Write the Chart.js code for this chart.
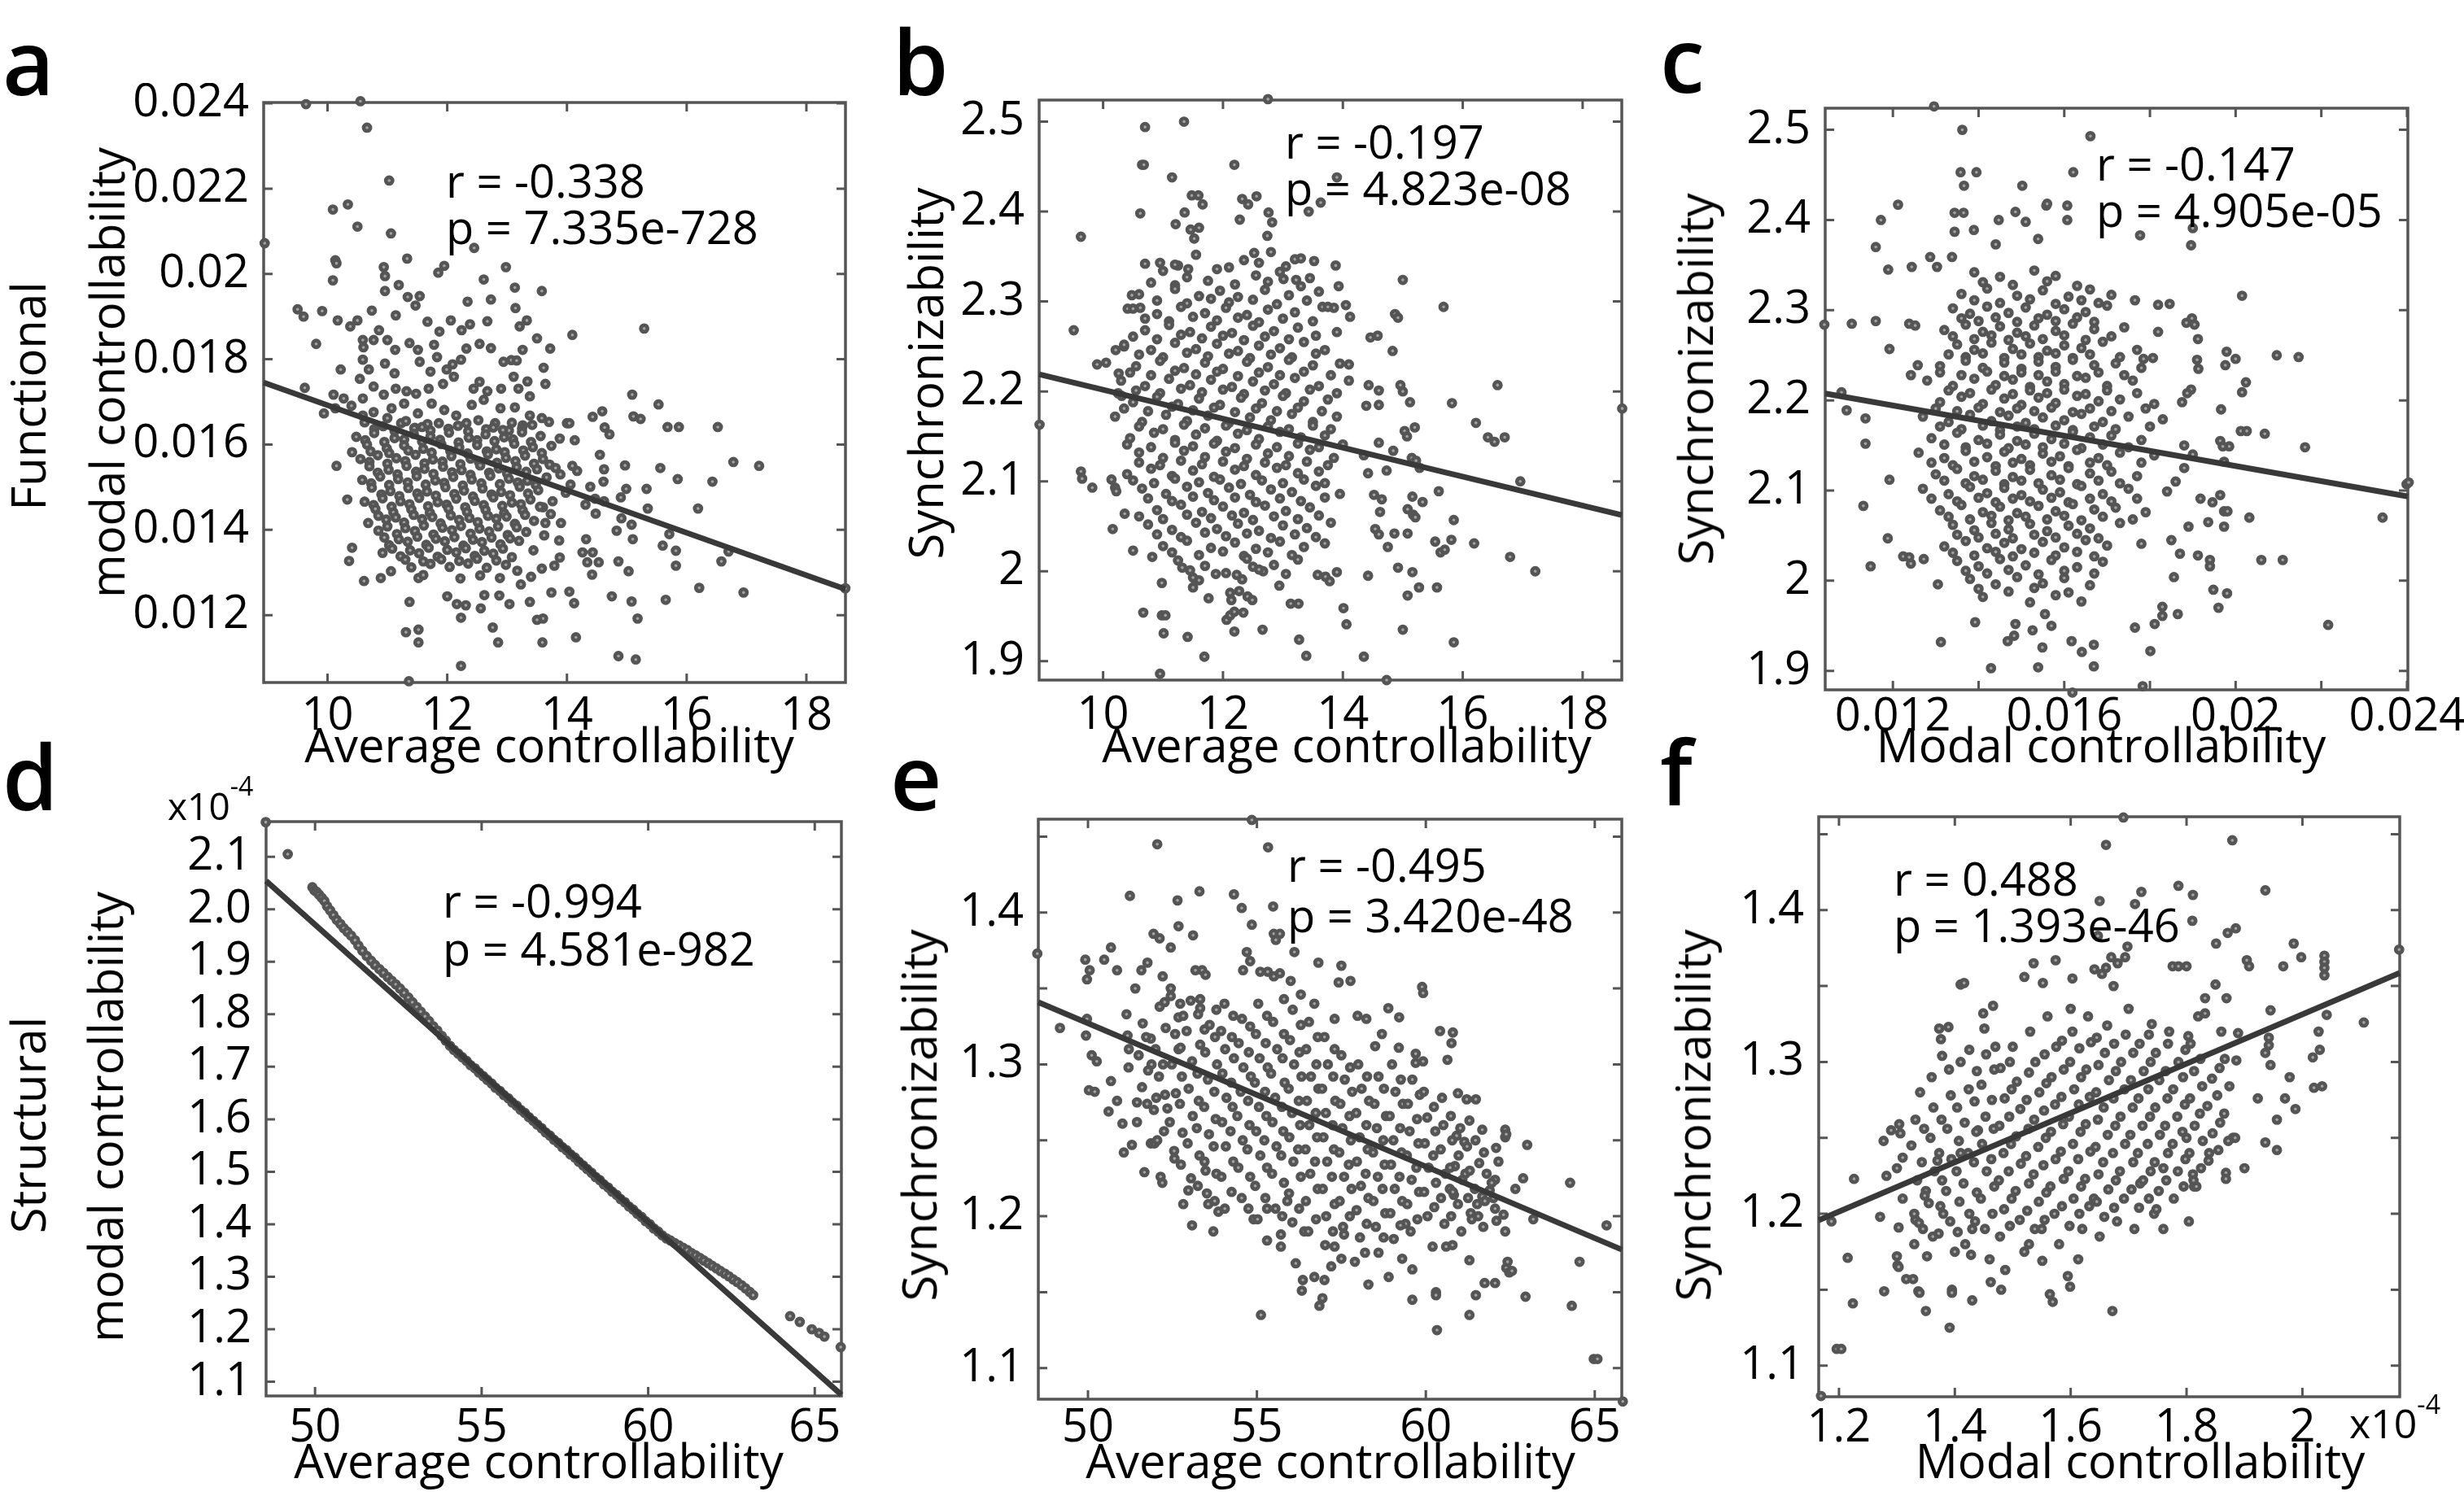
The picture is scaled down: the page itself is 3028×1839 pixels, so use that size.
<!DOCTYPE html>
<html>
<head>
<meta charset="utf-8">
<title>Controllability and synchronizability</title>
<script src="https://cdn.jsdelivr.net/npm/chart.js@4.4.1/dist/chart.umd.min.js"></script>
<style>
  body { margin: 0; background: #fff; }
  #fig { position: relative; width: 3028px; height: 1839px; overflow: hidden; font-family: 'Open Sans', sans-serif; color: #000; }
  #fig canvas { position: absolute; }
  .t { position: absolute; white-space: nowrap; line-height: 1; }
  .letter { font-weight: 600; }
  .ctr { transform: translateX(-50%); }
  .rot { transform: translate(-50%, -50%) rotate(-90deg); }
  .sup { font-size: 32px; position: relative; top: -30px; }
</style>
</head>
<body>
<div id="fig"></div>
<script>
// ---- panel a: average controllability vs functional modal controllability
var aXRange = [8.933, 18.653];
var aYRange = [0.01042, 0.02402];
var aXTicks = [10, 12, 14, 16, 18];
var aXLabels = ['10', '12', '14', '16', '18'];
var aYTicks = [0.012, 0.014, 0.016, 0.018, 0.020, 0.022, 0.024];
var aYLabels = ['0.012', '0.014', '0.016', '0.018', '0.02', '0.022', '0.024'];
var aFit = [[8.933, 0.017455], [18.653, 0.012608]];
var aPts = [
 [8.95,0.02072],[9.64,0.02398],[10.55,0.02405],[10.66,0.02343],[11.03,0.02219],[10.09,0.02151],[10.34,0.02163],[10.50,0.02111],[11.06,0.02095],[12.45,0.02061],[11.33,0.02036],[10.13,0.02032],[10.15,0.02025],[10.94,0.02016],[11.95,0.02019],[12.98,0.02016],[11.85,0.02003],[10.09,0.01985],[10.96,0.01995],[13.58,0.01960],[13.13,0.01968],[15.29,0.01872],[14.09,0.01857],[9.50,0.01917],[9.60,0.01900],[9.91,0.01913],[9.81,0.01836],[9.62,0.01733],[15.09,0.01717],[15.53,0.01694],[15.11,0.01666],[15.23,0.01660],[15.68,0.01641],[15.87,0.01641],[16.52,0.01641],[16.78,0.01559],[17.21,0.01550],[16.43,0.01513],[16.19,0.01450],[15.85,0.01519],[15.56,0.01545],[14.97,0.01551],[14.99,0.01496],[15.33,0.01496],[15.71,0.01390],[15.60,0.01363],[15.82,0.01351],[15.82,0.01316],[16.58,0.01326],[16.70,0.01349],[16.21,0.01264],[16.95,0.01253],[15.65,0.01236],[15.18,0.01192],[15.08,0.01232],[14.86,0.01104],[15.15,0.01096],[15.03,0.01303],[14.86,0.01326],[14.75,0.01244],[14.15,0.01148],[14.12,0.01228],[14.04,0.01255],[13.74,0.01253],[13.60,0.01192],[13.50,0.01189],[13.59,0.01136],[13.38,0.01231],[13.04,0.01226],[12.87,0.01246],[12.85,0.01136],[12.76,0.01171],[12.62,0.01247],[12.56,0.01216],[12.23,0.01081],[12.23,0.01194],[12.31,0.01223],[12.16,0.01226],[12.00,0.01244],[11.36,0.01045],[11.31,0.01160],[11.52,0.01166],[11.52,0.01136],[11.37,0.01231],[11.52,0.01287],[10.61,0.01280],[10.89,0.01287],[11.06,0.01303],[10.36,0.01327],[10.33,0.01471],[10.41,0.01358],[10.15,0.01550],[10.41,0.01582],[10.10,0.01717],[18.65,0.01263],
 [14.00,0.01650],[14.04,0.01650],[14.13,0.01610],[14.43,0.01665],[14.59,0.01678],[14.63,0.01640],[14.71,0.01624],[14.55,0.01576],[14.62,0.01542],[14.61,0.01513],[14.39,0.01501],[14.47,0.01473],[14.62,0.01467],[14.90,0.01476],[14.91,0.01427],[14.83,0.01398],[14.48,0.01438],[14.31,0.01459],[14.32,0.01378],[14.26,0.01347],[14.43,0.01347],[14.34,0.01324],[14.42,0.01295],[14.53,0.01324],[15.08,0.01412],[15.10,0.01378],[15.35,0.01450],
 [13.71,0.01553],[13.81,0.01545],[13.89,0.01530],[14.09,0.01550],[14.17,0.01538],[14.06,0.01506],[13.98,0.01487],[13.76,0.01467],[13.60,0.01453],[13.73,0.01437],[13.90,0.01416],[13.64,0.01416],[13.87,0.01375],[13.62,0.01387],[13.88,0.01335],[13.44,0.01352],[13.79,0.01316],[13.58,0.01309],[13.40,0.01290],[13.17,0.01304],[13.23,0.01272],
 [12.61,0.01987],[12.73,0.01940],[12.67,0.01889],[12.38,0.01882],[12.32,0.01825],[12.54,0.01836],[12.73,0.01826],[12.94,0.01794],[13.07,0.01798],[13.16,0.01797],[13.26,0.01822],[13.14,0.01920],[13.21,0.01877],[13.33,0.01891],[13.50,0.01849],[13.72,0.01825],[13.61,0.01780],[13.64,0.01742],[13.34,0.01748],[13.19,0.01731],[13.38,0.01713],[12.90,0.01731],[13.11,0.01759],[12.67,0.01725],[12.54,0.01747],[12.44,0.01731],[12.61,0.01705],[12.41,0.01693],[12.89,0.01685],[13.13,0.01687],[13.38,0.01668],[13.58,0.01662],[13.70,0.01653],[13.26,0.01645],[13.03,0.01633],[12.80,0.01650],
 [10.60,0.01828],[10.77,0.01845],[10.59,0.01799],[10.69,0.01776],[10.96,0.01790],[11.12,0.01767],[11.13,0.01822],[11.37,0.01838],[11.51,0.01822],[11.54,0.01794],[11.78,0.01834],[11.83,0.01805],[11.72,0.01771],[11.99,0.01776],[12.09,0.01788],[12.23,0.01799],[12.11,0.01759],[11.93,0.01742],[11.69,0.01731],[11.48,0.01719],[11.32,0.01725],[11.14,0.01731],[10.94,0.01717],[10.77,0.01736],[10.59,0.01708],[10.54,0.01754],[10.86,0.01868],[11.14,0.01903],[11.34,0.01946],[11.54,0.01948],[11.67,0.01888],[11.87,0.01865],[12.06,0.01891],[12.34,0.01935],[12.24,0.01868],[11.00,0.01845],[11.19,0.01974],[11.47,0.01926],[10.74,0.01914],[10.96,0.01960],[10.50,0.01891],[10.17,0.01891],[10.38,0.01877],[10.59,0.01845],[11.07,0.01685],[11.28,0.01696],[11.51,0.01673],[11.74,0.01696],[11.95,0.01681],[12.15,0.01668],[12.32,0.01650],[11.67,0.01648],[11.46,0.01639],[11.23,0.01650],[11.00,0.01662],[10.77,0.01676],[10.59,0.01668],[10.40,0.01691],[10.13,0.01685],[10.27,0.01708],[9.94,0.01673],[10.22,0.01776],
 [10.62,0.01652],[10.93,0.01643],[11.31,0.01655],[11.58,0.01641],[11.86,0.01650],[12.18,0.01644],[12.52,0.01657],[12.77,0.01640],[13.08,0.01651],[13.42,0.01646],
 [10.78,0.01636],[11.12,0.01632],[11.45,0.01638],[11.72,0.01633],[12.02,0.01637],[12.35,0.01631],[12.65,0.01636],[12.93,0.01634],[13.25,0.01638],
 [10.48,0.01618],[10.78,0.01627],[11.12,0.01615],[11.44,0.01625],[11.72,0.01619],[12.03,0.01628],[12.36,0.01616],[12.64,0.01624],[12.95,0.01617],[13.25,0.01629],[13.56,0.01620],[13.88,0.01614],
 [10.63,0.01610],[10.95,0.01606],[11.28,0.01612],[11.58,0.01607],[11.88,0.01611],[12.19,0.01605],[12.50,0.01610],[12.79,0.01608],[13.10,0.01612],[13.40,0.01606],
 [10.66,0.01600],[10.99,0.01591],[11.28,0.01598],[11.60,0.01590],[11.90,0.01601],[12.20,0.01593],[12.50,0.01599],[12.82,0.01589],[13.12,0.01602],[13.43,0.01594],[13.74,0.01597],
 [10.72,0.01584],[11.03,0.01580],[11.35,0.01586],[11.74,0.01581],[12.05,0.01585],[12.34,0.01579],[12.66,0.01584],[12.96,0.01582],[13.27,0.01586],[13.58,0.01580],
 [10.55,0.01566],[10.84,0.01575],[11.15,0.01568],[11.47,0.01576],[11.76,0.01565],[12.07,0.01573],[12.39,0.01567],[12.68,0.01577],[12.98,0.01569],[13.30,0.01574],[13.60,0.01566],
 [10.70,0.01559],[11.00,0.01555],[11.30,0.01561],[11.62,0.01556],[11.92,0.01560],[12.22,0.01554],[12.53,0.01559],[12.83,0.01557],[13.14,0.01561],[13.45,0.01555],
 [10.70,0.01549],[11.02,0.01541],[11.32,0.01550],[11.62,0.01543],[11.93,0.01548],[12.24,0.01540],[12.55,0.01551],[12.86,0.01544],[13.16,0.01547],[13.50,0.01542],
 [10.84,0.01534],[11.17,0.01530],[11.48,0.01536],[11.77,0.01531],[12.08,0.01535],[12.39,0.01529],[12.70,0.01534],[13.00,0.01532],[13.32,0.01536],
 [10.58,0.01517],[10.88,0.01525],[11.18,0.01519],[11.49,0.01526],[11.80,0.01516],[12.10,0.01524],[12.41,0.01518],[12.72,0.01527],[13.03,0.01520],[13.34,0.01515],[13.66,0.01523],
 [10.73,0.01509],[11.03,0.01505],[11.34,0.01511],[11.64,0.01506],[11.95,0.01510],[12.26,0.01504],[12.57,0.01509],[12.88,0.01507],[13.18,0.01511],[13.48,0.01505],
 [10.74,0.01499],[11.05,0.01491],[11.35,0.01498],[11.66,0.01490],[11.97,0.01500],[12.28,0.01492],[12.59,0.01497],[12.90,0.01489],[13.21,0.01501],[13.52,0.01493],
 [10.90,0.01483],[11.20,0.01479],[11.50,0.01485],[11.81,0.01480],[12.12,0.01484],[12.43,0.01478],[12.74,0.01483],[13.05,0.01481],[13.35,0.01485],
 [10.62,0.01466],[10.92,0.01474],[11.22,0.01467],[11.53,0.01475],[11.84,0.01465],[12.15,0.01473],[12.46,0.01468],[12.77,0.01476],[13.08,0.01464],[13.39,0.01471],
 [10.77,0.01458],[11.07,0.01454],[11.37,0.01460],[11.68,0.01455],[11.99,0.01459],[12.30,0.01453],[12.61,0.01458],[12.92,0.01456],[13.23,0.01460],[13.55,0.01454],
 [10.80,0.01449],[11.10,0.01441],[11.40,0.01448],[11.71,0.01440],[12.02,0.01450],[12.33,0.01442],[12.64,0.01447],[12.95,0.01439],[13.26,0.01446],
 [10.85,0.01433],[11.14,0.01429],[11.44,0.01435],[11.75,0.01430],[12.06,0.01434],[12.37,0.01428],[12.68,0.01433],[12.99,0.01431],[13.30,0.01435],
 [10.68,0.01416],[10.98,0.01424],[11.28,0.01417],[11.58,0.01425],[11.89,0.01415],[12.20,0.01423],[12.51,0.01418],[12.82,0.01426],[13.13,0.01414],[13.45,0.01421],
 [11.00,0.01408],[11.30,0.01404],[11.61,0.01410],[11.92,0.01405],[12.23,0.01409],[12.54,0.01403],[12.85,0.01408],[13.16,0.01406],
 [10.85,0.01398],[11.16,0.01390],[11.46,0.01397],[11.77,0.01389],[12.08,0.01399],[12.39,0.01391],[12.70,0.01396],[13.01,0.01388],[13.32,0.01395],
 [10.95,0.01382],[11.19,0.01378],[11.50,0.01384],[11.81,0.01379],[12.12,0.01383],[12.43,0.01377],[12.74,0.01382],[13.05,0.01380],
 [11.03,0.01364],[11.34,0.01372],[11.65,0.01365],[11.96,0.01373],[12.27,0.01363],[12.58,0.01371],[12.89,0.01366],[13.20,0.01374],
 [11.08,0.01356],[11.38,0.01352],[11.69,0.01358],[12.00,0.01353],[12.31,0.01357],[12.62,0.01351],[12.93,0.01356],
 [10.92,0.01346],[11.22,0.01338],[11.53,0.01345],[11.84,0.01337],[12.15,0.01347],[12.46,0.01339],[12.77,0.01344],[13.08,0.01336],
 [11.30,0.01330],[11.60,0.01326],[11.90,0.01331],[12.20,0.01327],[12.50,0.01332],[12.82,0.01328],
 [11.40,0.01312],[11.72,0.01320],[12.04,0.01313],[12.35,0.01321],[12.66,0.01311],[12.98,0.01318],
 [11.60,0.01294],[12.22,0.01286],[12.55,0.01293],[12.88,0.01287]
];

// ---- panel b: average controllability vs synchronizability
var bXRange = [8.933, 18.653];
var bYRange = [1.879, 2.524];
var bXTicks = [10, 12, 14, 16, 18];
var bXLabels = ['10', '12', '14', '16', '18'];
var bYTicks = [1.9, 2.0, 2.1, 2.2, 2.3, 2.4, 2.5];
var bYLabels = ['1.9', '2', '2.1', '2.2', '2.3', '2.4', '2.5'];
var bFit = [[8.933, 2.219], [18.653, 2.0626]];
var bPts = [
 [8.94,2.163],[12.75,2.525],[10.70,2.494],[11.35,2.500],[10.65,2.452],[10.68,2.452],[12.19,2.452],[11.15,2.438],[13.90,2.438],[10.62,2.398],[11.36,2.399],[11.21,2.386],[11.48,2.418],[11.59,2.418],[11.66,2.408],[11.60,2.382],[11.46,2.380],[11.52,2.370],[12.32,2.414],[12.42,2.408],[12.56,2.417],[12.28,2.391],[12.76,2.399],[12.82,2.388],[12.74,2.373],[13.43,2.400],[13.63,2.410],[9.63,2.372],[9.51,2.268],[9.90,2.230],[9.63,2.111],[9.65,2.103],[9.82,2.093],[10.14,2.102],[10.20,2.093],[10.22,2.089],[10.16,2.047],[10.36,2.064],[10.50,2.023],[10.82,2.016],[10.67,1.954],[10.98,1.951],[11.04,1.951],[10.98,1.987],[11.01,1.931],[10.95,1.886],[11.41,1.927],[11.69,1.905],[11.76,1.970],[11.50,1.982],[11.60,1.990],[11.50,1.993],[11.32,2.004],[11.88,1.997],[12.06,1.946],[12.12,1.951],[12.19,1.955],[12.34,1.954],[12.12,1.976],[12.14,1.968],[12.27,1.978],[12.41,1.972],[12.49,1.968],[12.19,1.933],[12.66,1.935],[12.23,1.996],[12.32,1.991],[12.50,2.005],[12.67,2.000],[12.94,1.984],[13.13,1.964],[13.26,1.964],[13.27,1.924],[13.39,1.906],[13.58,1.996],[13.71,1.994],[13.78,1.989],[13.90,1.999],[14.01,1.959],[14.06,1.941],[14.35,1.905],[14.42,1.995],[14.73,1.879],[15.00,1.935],[15.08,1.973],[14.92,2.004],[15.16,1.999],[15.27,1.982],[15.57,1.982],[15.85,1.921],[15.54,2.033],[15.63,2.021],[15.70,2.024],[15.81,2.035],[15.85,2.057],[15.60,2.089],[15.33,2.077],[15.16,2.083],[15.17,2.063],[15.08,2.069],[15.21,2.060],[15.08,2.042],[14.86,2.042],[14.75,2.027],[16.19,2.031],[16.79,2.016],[17.21,2.000],[16.96,2.100],[16.22,2.165],[16.42,2.149],[16.53,2.144],[16.70,2.149],[16.58,2.207],[15.68,2.294],[15.82,2.187],[15.00,2.324],[14.87,2.286],[14.92,2.282],[14.83,2.245],[14.46,2.260],[14.58,2.262],[14.96,2.207],[15.00,2.200],[15.12,2.188],[14.60,2.201],[14.43,2.207],[14.39,2.184],[14.60,2.185],[15.03,2.156],[15.07,2.150],[15.20,2.160],[14.84,2.134],[15.15,2.126],[15.22,2.123],[15.28,2.115],[14.73,2.112],[14.60,2.143],[14.35,2.129],[14.42,2.109],[14.52,2.085],[14.65,2.080],[14.54,2.047],[14.60,2.041],[14.62,2.066],[18.66,2.181],
 [12.52,2.354],[13.20,2.347],[13.88,2.340],[13.52,2.345],[13.01,2.325],[13.22,2.324],[13.93,2.317],[14.05,2.296],[14.12,2.283],[13.66,2.294],[13.85,2.293],[14.10,2.230],[10.48,2.307],[10.62,2.293],[10.41,2.292],[10.95,2.343],[10.70,2.342],[11.25,2.340],[11.42,2.336],[10.35,2.250],[10.21,2.246],[10.26,2.220],[10.05,2.232],[10.25,2.198],[10.31,2.195],
 [11.55,2.352],[12.35,2.346],[12.80,2.355],[13.30,2.348],
 [11.20,2.341],[12.10,2.338],[12.60,2.343],[13.05,2.339],
 [11.00,2.334],[11.40,2.327],[11.90,2.336],[12.55,2.329],[12.95,2.333],[13.45,2.326],
 [10.80,2.321],[11.20,2.318],[11.75,2.323],[12.20,2.319],[12.75,2.322],[13.30,2.317],
 [10.60,2.308],[11.20,2.314],[11.60,2.306],[11.95,2.312],[12.25,2.305],[12.70,2.313],[13.10,2.307],[13.60,2.311],
 [10.90,2.301],[11.40,2.298],[11.80,2.303],[12.10,2.299],[12.50,2.302],[12.90,2.297],[13.40,2.301],
 [10.50,2.292],[10.90,2.286],[11.30,2.294],[11.70,2.287],[12.05,2.293],[12.40,2.285],[12.75,2.291],[13.20,2.288],[13.75,2.294],
 [10.70,2.281],[11.10,2.278],[11.50,2.283],[11.90,2.279],[12.25,2.282],[12.60,2.277],[13.00,2.281],[13.50,2.278],
 [10.70,2.268],[11.10,2.274],[11.45,2.266],[11.80,2.272],[12.15,2.265],[12.50,2.273],[12.85,2.267],[13.25,2.271],[13.90,2.266],
 [10.50,2.261],[10.90,2.258],[11.30,2.263],[11.65,2.259],[12.00,2.262],[12.35,2.257],[12.70,2.261],[13.10,2.258],[13.55,2.262],
 [10.35,2.252],[10.80,2.246],[11.20,2.254],[11.55,2.247],[11.90,2.253],[12.25,2.245],[12.60,2.251],[12.95,2.248],[13.35,2.255],[13.70,2.246],
 [10.60,2.241],[11.00,2.238],[11.40,2.243],[11.75,2.239],[12.10,2.242],[12.45,2.237],[12.80,2.241],[13.15,2.238],[13.55,2.242],
 [10.55,2.228],[10.95,2.234],[11.35,2.226],[11.70,2.232],[12.00,2.225],[12.40,2.233],[12.75,2.227],[13.10,2.235],[13.50,2.229],[13.95,2.231],
 [10.45,2.221],[10.80,2.218],[11.20,2.223],[11.55,2.219],[11.90,2.222],[12.25,2.217],[12.60,2.221],[12.95,2.218],[13.35,2.222],[13.80,2.218],
 [10.30,2.212],[10.70,2.206],[11.10,2.214],[11.45,2.207],[11.80,2.213],[12.15,2.205],[12.50,2.211],[12.85,2.208],[13.20,2.215],[13.60,2.206],[14.10,2.212],
 [10.55,2.201],[10.95,2.198],[11.30,2.203],[11.65,2.199],[12.00,2.202],[12.35,2.197],[12.70,2.201],[13.05,2.198],[13.45,2.202],[13.90,2.198],
 [10.50,2.188],[10.90,2.194],[11.25,2.186],[11.60,2.192],[11.95,2.185],[12.30,2.193],[12.65,2.187],[13.00,2.195],[13.35,2.189],[13.75,2.191],
 [10.35,2.181],[10.75,2.178],[11.15,2.183],[11.50,2.179],[11.85,2.182],[12.20,2.177],[12.55,2.181],[12.90,2.178],[13.25,2.182],[13.65,2.178],
 [10.20,2.172],[10.65,2.166],[11.05,2.174],[11.40,2.167],[11.75,2.173],[12.10,2.165],[12.45,2.171],[12.80,2.168],[13.15,2.175],[13.50,2.166],[13.90,2.172],
 [10.60,2.161],[11.00,2.158],[11.35,2.163],[11.70,2.159],[12.05,2.162],[12.40,2.157],[12.75,2.161],[13.10,2.158],[13.50,2.162],[13.80,2.158],
 [10.45,2.148],[10.85,2.154],[11.20,2.146],[11.55,2.152],[11.90,2.145],[12.25,2.153],[12.60,2.147],[12.95,2.155],[13.30,2.149],[13.70,2.151],
 [10.40,2.141],[10.80,2.138],[11.20,2.143],[11.50,2.139],[11.85,2.142],[12.20,2.137],[12.55,2.141],[12.90,2.138],[13.25,2.142],[13.60,2.138],[14.00,2.141],
 [10.60,2.132],[11.00,2.126],[11.35,2.134],[11.70,2.127],[12.05,2.133],[12.40,2.125],[12.75,2.131],[13.10,2.128],[13.45,2.135],[13.85,2.126],
 [10.60,2.121],[10.95,2.118],[11.30,2.123],[11.65,2.119],[12.00,2.122],[12.35,2.117],[12.70,2.121],[13.05,2.118],[13.40,2.122],[13.75,2.118],
 [10.40,2.108],[10.80,2.114],[11.15,2.106],[11.50,2.112],[11.85,2.105],[12.20,2.113],[12.55,2.107],[12.90,2.115],[13.25,2.109],[13.60,2.111],
 [10.50,2.101],[10.85,2.098],[11.20,2.103],[11.60,2.099],[11.95,2.102],[12.30,2.097],[12.65,2.101],[13.00,2.098],[13.35,2.102],[13.70,2.098],
 [10.65,2.092],[11.05,2.086],[11.40,2.094],[11.75,2.087],[12.10,2.093],[12.45,2.085],[12.80,2.091],[13.15,2.088],[13.55,2.095],[13.95,2.086],
 [10.75,2.081],[11.15,2.078],[11.50,2.083],[11.85,2.079],[12.20,2.082],[12.55,2.077],[12.95,2.081],[13.30,2.078],[13.70,2.082],
 [10.90,2.068],[11.30,2.074],[11.65,2.066],[12.00,2.072],[12.35,2.065],[12.70,2.073],[13.05,2.067],[13.45,2.071],
 [10.60,2.061],[11.00,2.058],[11.40,2.063],[11.80,2.059],[12.15,2.062],[12.50,2.057],[12.85,2.061],[13.25,2.058],[13.60,2.062],
 [10.75,2.052],[11.15,2.046],[11.55,2.054],[11.90,2.047],[12.25,2.053],[12.60,2.045],[13.00,2.051],[13.40,2.048],[13.80,2.054],
 [10.90,2.041],[11.30,2.038],[11.70,2.043],[12.05,2.039],[12.40,2.042],[12.80,2.037],[13.20,2.041],[13.55,2.038],
 [11.00,2.028],[11.40,2.034],[11.80,2.026],[12.20,2.032],[12.55,2.025],[12.95,2.033],[13.35,2.027],[13.70,2.031],
 [11.15,2.021],[11.60,2.018],[12.00,2.022],[12.35,2.017],[12.75,2.021],[13.15,2.018],
 [11.25,2.012],[11.70,2.006],[12.40,2.014],[12.85,2.007],[13.25,2.013],
 [11.45,2.001],[12.05,1.998],[12.60,2.002],[13.05,1.997]
];

// ---- panel c: modal controllability vs synchronizability
var cXRange = [0.01042, 0.02402];
var cYRange = [1.879, 2.524];
var cXTicks = [0.012, 0.014, 0.016, 0.018, 0.020, 0.022, 0.024];
var cXLabels = ['0.012', '', '0.016', '', '0.02', '', '0.024'];
var cYTicks = [1.9, 2.0, 2.1, 2.2, 2.3, 2.4, 2.5];
var cYLabels = ['1.9', '2', '2.1', '2.2', '2.3', '2.4', '2.5'];
var cFit = [[0.01042, 2.2076], [0.02402, 2.0935]];
var cPts = [
 [0.01296,2.526],[0.01362,2.500],[0.01661,2.493],[0.01358,2.453],[0.01395,2.453],[0.01621,2.453],[0.01366,2.438],[0.01502,2.438],[0.01212,2.417],[0.01172,2.400],[0.01344,2.408],[0.01365,2.408],[0.01389,2.389],[0.01344,2.387],[0.01440,2.373],[0.01447,2.400],[0.01486,2.409],[0.01510,2.398],[0.01539,2.379],[0.01558,2.416],[0.01560,2.418],[0.01607,2.416],[0.01607,2.400],[0.01777,2.383],[0.01900,2.391],[0.01896,2.372],[0.01160,2.370],[0.01189,2.345],[0.01244,2.348],[0.01287,2.359],[0.01303,2.348],[0.01338,2.359],[0.01040,2.284],[0.01104,2.285],[0.01160,2.288],[0.01192,2.257],[0.01238,2.285],[0.01252,2.283],[0.01258,2.239],[0.01242,2.228],[0.01080,2.209],[0.01092,2.189],[0.01136,2.180],[0.01136,2.152],[0.01192,2.112],[0.01131,2.083],[0.01188,2.047],[0.01148,2.016],[0.01224,2.027],[0.01238,2.026],[0.01242,2.019],[0.01272,2.024],[0.01312,1.932],[0.01305,1.996],[0.01392,1.954],[0.01429,1.903],[0.01468,1.933],[0.01483,1.939],[0.01486,1.952],[0.01526,1.945],[0.01539,1.904],[0.01549,1.926],[0.01555,1.963],[0.01570,1.950],[0.01617,1.933],[0.01619,1.876],[0.01641,1.921],[0.01669,1.929],[0.01669,1.905],[0.01765,1.948],[0.01783,1.883],[0.01801,1.922],[0.01811,1.952],[0.01829,1.961],[0.01829,1.971],[0.01865,1.963],[0.01856,2.004],[0.01960,1.970],[0.01948,1.990],[0.01980,1.986],[0.01940,2.023],[0.01940,2.016],[0.01912,2.028],[0.02060,2.023],[0.02110,2.023],[0.02216,1.951],[0.02343,2.070],[0.02399,2.107],[0.02404,2.109],[0.02162,2.148],[0.02068,2.163],[0.02012,2.166],[0.02026,2.166],[0.01985,2.149],[0.01964,2.155],[0.01970,2.149],[0.01973,2.132],[0.02024,2.220],[0.02015,2.209],[0.02000,2.246],[0.01976,2.239],[0.01979,2.254],[0.02015,2.316],[0.02096,2.250],[0.02147,2.248],[0.01966,2.190],[0.02032,2.070],[0.01973,2.077],[0.01981,2.077],[0.01973,2.060],[0.01964,2.095],[0.01936,2.065],[0.01946,2.087],[0.01918,2.091],[0.01898,2.291],[0.01904,2.284],[0.01885,2.286],[0.01912,2.268],[0.01910,2.245],[0.01913,2.235],[0.01896,2.212],[0.01887,2.208],[0.01875,2.198],[0.01819,2.276],[0.01846,2.307],[0.01819,2.306],[0.01765,2.311],[0.01807,2.247],[0.01785,2.246],[0.01880,2.150],[0.01900,2.140],[0.01860,2.110],[0.01880,2.125],[0.01890,2.060],[0.01850,2.045],[0.01870,2.030],
 [0.0139,2.342],[0.0145,2.337],[0.0153,2.344],[0.0158,2.338],
 [0.0141,2.331],[0.0148,2.328],[0.0156,2.332],[0.0163,2.327],
 [0.0136,2.318],[0.0142,2.324],[0.0149,2.316],[0.0155,2.322],[0.0161,2.315],[0.0166,2.323],[0.0171,2.317],
 [0.0139,2.311],[0.0145,2.308],[0.0152,2.312],[0.0158,2.307],[0.0164,2.311],[0.0168,2.308],
 [0.0134,2.302],[0.0138,2.296],[0.0142,2.304],[0.0147,2.297],[0.0151,2.303],[0.0156,2.295],[0.0160,2.301],[0.0165,2.298],[0.0170,2.305],
 [0.0136,2.291],[0.0140,2.288],[0.0144,2.292],[0.0149,2.287],[0.0154,2.291],[0.0158,2.288],[0.0163,2.292],[0.0167,2.287],
 [0.0132,2.278],[0.0137,2.284],[0.0141,2.276],[0.0145,2.282],[0.0149,2.275],[0.0153,2.283],[0.0158,2.277],[0.0162,2.285],[0.0167,2.279],[0.0174,2.281],
 [0.0134,2.271],[0.0139,2.268],[0.0143,2.272],[0.0147,2.267],[0.0151,2.271],[0.0155,2.268],[0.0160,2.272],[0.0165,2.267],[0.0171,2.271],
 [0.0135,2.262],[0.0139,2.256],[0.0143,2.264],[0.0148,2.257],[0.0152,2.263],[0.0156,2.255],[0.0160,2.261],[0.0164,2.258],[0.0169,2.265],[0.0177,2.256],
 [0.0133,2.251],[0.0137,2.248],[0.0141,2.252],[0.0146,2.247],[0.0150,2.251],[0.0154,2.248],[0.0158,2.252],[0.0162,2.247],[0.0166,2.251],[0.0173,2.248],
 [0.0131,2.238],[0.0137,2.244],[0.0141,2.236],[0.0146,2.242],[0.0150,2.235],[0.0154,2.243],[0.0158,2.237],[0.0162,2.245],[0.0167,2.239],[0.0172,2.241],[0.0178,2.236],
 [0.0131,2.231],[0.0136,2.228],[0.0142,2.232],[0.0146,2.227],[0.0150,2.231],[0.0154,2.228],[0.0158,2.232],[0.0163,2.227],[0.0168,2.231],[0.0174,2.228],
 [0.0128,2.222],[0.0134,2.216],[0.0139,2.224],[0.0144,2.217],[0.0148,2.223],[0.0152,2.215],[0.0156,2.221],[0.0160,2.218],[0.0165,2.225],[0.0170,2.216],[0.0176,2.222],
 [0.0133,2.211],[0.0138,2.208],[0.0143,2.212],[0.0148,2.207],[0.0152,2.211],[0.0156,2.208],[0.0160,2.212],[0.0165,2.207],[0.0170,2.211],[0.0177,2.208],
 [0.0131,2.198],[0.0136,2.204],[0.0141,2.196],[0.0146,2.202],[0.0150,2.195],[0.0154,2.203],[0.0158,2.197],[0.0163,2.205],[0.0168,2.199],[0.0173,2.201],[0.0181,2.196],
 [0.0130,2.191],[0.0135,2.188],[0.0140,2.192],[0.0145,2.187],[0.0149,2.191],[0.0153,2.188],[0.0157,2.192],[0.0162,2.187],[0.0166,2.191],[0.0171,2.188],[0.0179,2.191],
 [0.0127,2.182],[0.0133,2.176],[0.0138,2.184],[0.0143,2.177],[0.0147,2.183],[0.0151,2.175],[0.0155,2.181],[0.0160,2.178],[0.0164,2.185],[0.0169,2.176],[0.0175,2.182],[0.0183,2.179],
 [0.0131,2.171],[0.0136,2.168],[0.0141,2.172],[0.0145,2.167],[0.0149,2.171],[0.0153,2.168],[0.0158,2.172],[0.0162,2.167],[0.0167,2.171],[0.0172,2.168],[0.0180,2.171],
 [0.0129,2.158],[0.0135,2.164],[0.0140,2.156],[0.0145,2.162],[0.0149,2.155],[0.0153,2.163],[0.0157,2.157],[0.0162,2.165],[0.0166,2.159],[0.0171,2.161],[0.0178,2.156],
 [0.0132,2.151],[0.0137,2.148],[0.0142,2.152],[0.0147,2.147],[0.0151,2.151],[0.0155,2.148],[0.0160,2.152],[0.0164,2.147],[0.0169,2.151],[0.0175,2.148],
 [0.0126,2.142],[0.0132,2.136],[0.0137,2.144],[0.0142,2.137],[0.0146,2.143],[0.0150,2.135],[0.0155,2.141],[0.0159,2.138],[0.0163,2.145],[0.0168,2.136],[0.0173,2.142],[0.0181,2.139],
 [0.0129,2.131],[0.0134,2.128],[0.0139,2.132],[0.0144,2.127],[0.0148,2.131],[0.0152,2.128],[0.0157,2.132],[0.0161,2.127],[0.0166,2.131],[0.0170,2.128],[0.0178,2.131],
 [0.0130,2.118],[0.0135,2.124],[0.0139,2.116],[0.0144,2.122],[0.0148,2.115],[0.0152,2.123],[0.0157,2.117],[0.0161,2.125],[0.0166,2.119],[0.0171,2.121],[0.0177,2.116],
 [0.0132,2.111],[0.0137,2.108],[0.0141,2.112],[0.0146,2.107],[0.0150,2.111],[0.0154,2.108],[0.0159,2.112],[0.0163,2.107],[0.0168,2.111],[0.0173,2.108],
 [0.0127,2.102],[0.0133,2.096],[0.0138,2.104],[0.0142,2.097],[0.0146,2.103],[0.0150,2.095],[0.0155,2.101],[0.0159,2.098],[0.0164,2.105],[0.0169,2.096],[0.0175,2.102],[0.0184,2.099],
 [0.0129,2.091],[0.0135,2.088],[0.0140,2.092],[0.0144,2.087],[0.0148,2.091],[0.0152,2.088],[0.0157,2.092],[0.0161,2.087],[0.0166,2.091],[0.0171,2.088],[0.0177,2.091],
 [0.0131,2.078],[0.0136,2.084],[0.0141,2.076],[0.0145,2.082],[0.0149,2.075],[0.0154,2.083],[0.0158,2.077],[0.0162,2.085],[0.0167,2.079],[0.0172,2.081],[0.0179,2.076],
 [0.0133,2.071],[0.0138,2.068],[0.0143,2.072],[0.0147,2.067],[0.0151,2.071],[0.0156,2.068],[0.0160,2.072],[0.0164,2.067],[0.0169,2.071],[0.0176,2.068],
 [0.0134,2.062],[0.0139,2.056],[0.0143,2.064],[0.0147,2.057],[0.0152,2.063],[0.0156,2.055],[0.0161,2.061],[0.0166,2.058],[0.0173,2.064],
 [0.0135,2.051],[0.0140,2.048],[0.0144,2.052],[0.0148,2.047],[0.0153,2.051],[0.0158,2.048],[0.0163,2.052],[0.0168,2.047],
 [0.0132,2.038],[0.0137,2.044],[0.0142,2.036],[0.0146,2.042],[0.0150,2.035],[0.0155,2.043],[0.0160,2.037],[0.0165,2.045],[0.0170,2.039],[0.0178,2.041],
 [0.0134,2.031],[0.0139,2.028],[0.0144,2.032],[0.0148,2.027],[0.0153,2.031],[0.0158,2.028],[0.0163,2.032],[0.0167,2.027],
 [0.0135,2.022],[0.0140,2.016],[0.0145,2.024],[0.0151,2.017],[0.0157,2.023],[0.0163,2.015],[0.0169,2.021],
 [0.0137,2.011],[0.0142,2.008],[0.0147,2.012],[0.0154,2.007],[0.0160,2.011],[0.0167,2.008],
 [0.0138,2.002],[0.0144,1.996],[0.0149,2.004],[0.0155,1.997],[0.0160,2.003],[0.0166,1.995],
 [0.0140,1.991],[0.0147,1.988],[0.0153,1.992],[0.0161,1.987],
 [0.0141,1.982],[0.0152,1.976],[0.0158,1.984],[0.0164,1.977]
];

// ---- panel d: average controllability vs structural modal controllability (y in 1e-4)
var dXRange = [48.53, 65.8];
var dYRange = [1.073, 2.167];
var dXTicks = [50, 55, 60, 65];
var dXLabels = ['50', '55', '60', '65'];
var dYTicks = [1.1, 1.2, 1.3, 1.4, 1.5, 1.6, 1.7, 1.8, 1.9, 2.0, 2.1];
var dYLabels = ['1.1', '1.2', '1.3', '1.4', '1.5', '1.6', '1.7', '1.8', '1.9', '2.0', '2.1'];
var dFit = [[48.53, 2.054], [65.8, 1.075]];
var dPts = [
 [48.52,2.166],[49.18,2.105],[49.92,2.042],[49.98,2.036],[50.05,2.033],[50.12,2.028],[50.20,2.022],[50.28,2.016],[50.36,2.006],[50.45,1.998],[50.55,1.989],[50.65,1.980],[50.76,1.972],[50.86,1.964],[50.97,1.957],[51.08,1.950],[51.20,1.941],[51.30,1.931],[51.42,1.921],[51.55,1.911],[51.68,1.902],[51.80,1.894],[51.93,1.886],[52.05,1.879],[52.18,1.871],[52.30,1.864],[52.42,1.857],[52.55,1.849],[52.67,1.841],[52.80,1.832],[52.92,1.823],[53.05,1.814],[53.17,1.805],[53.30,1.796],[53.42,1.787],[53.55,1.777],[53.67,1.769],[53.80,1.759],[53.92,1.750],
 [54.05,1.740],[54.17,1.732],[54.30,1.725],[54.42,1.718],[54.55,1.711],[54.67,1.703],[54.80,1.697],[54.92,1.689],[55.05,1.682],[55.17,1.675],[55.30,1.668],[55.42,1.660],[55.55,1.654],[55.67,1.646],[55.80,1.640],[55.92,1.632],[56.05,1.626],[56.17,1.618],[56.30,1.612],[56.42,1.604],[56.55,1.597],[56.67,1.590],[56.80,1.583],[56.92,1.575],[57.05,1.569],[57.17,1.561],[57.30,1.555],[57.42,1.547],[57.55,1.541],[57.67,1.533],[57.80,1.527],[57.92,1.519],[58.05,1.512],[58.17,1.505],[58.30,1.498],[58.42,1.490],[58.55,1.484],[58.67,1.476],[58.80,1.470],[58.92,1.462],[59.05,1.456],[59.17,1.448],[59.30,1.442],[59.42,1.434],[59.55,1.428],[59.67,1.420],[59.80,1.414],[59.92,1.406],[60.05,1.400],[60.17,1.392],[60.30,1.386],[60.42,1.379],[60.55,1.373],[60.67,1.369],[60.80,1.364],[60.92,1.360],[61.05,1.355],[61.17,1.351],[61.30,1.345],[61.42,1.341],[61.55,1.336],[61.67,1.331],[61.80,1.326],[61.92,1.321],[62.05,1.316],[62.17,1.311],[62.30,1.306],[62.42,1.301],[62.55,1.295],[62.67,1.290],[62.80,1.284],[62.92,1.278],[63.05,1.271],[63.15,1.265],
 [64.26,1.225],[64.55,1.214],[64.91,1.200],[65.13,1.193],[65.29,1.186],[65.78,1.166]
];

// ---- panel e: average controllability vs synchronizability
var eXRange = [48.53, 65.8];
var eYRange = [1.0795, 1.4615];
var eXTicks = [50, 55, 60, 65];
var eXLabels = ['50', '55', '60', '65'];
var eYTicks = [1.1, 1.15, 1.2, 1.25, 1.3, 1.35, 1.4, 1.45];
var eYLabels = ['1.1', '', '1.2', '', '1.3', '', '1.4', ''];
var eFit = [[48.53, 1.341], [65.8, 1.178]];
var ePts = [
 [48.50,1.373],[49.17,1.324],[49.97,1.330],[49.94,1.319],[50.11,1.306],[50.03,1.283],[50.20,1.282],[49.92,1.369],[50.05,1.362],[49.97,1.356],[50.26,1.302],[50.48,1.369],[50.68,1.377],[50.86,1.362],[50.68,1.289],[50.61,1.269],[50.86,1.276],[51.02,1.261],[51.06,1.242],[51.30,1.247],[51.45,1.275],[51.67,1.229],[51.14,1.333],[51.17,1.319],[51.21,1.310],[51.20,1.298],[51.24,1.411],[51.58,1.362],[51.76,1.367],[51.86,1.317],[51.88,1.300],[51.94,1.386],[52.12,1.383],[52.05,1.445],[52.02,1.278],[51.86,1.248],[51.97,1.248],[52.15,1.226],[52.20,1.222],[52.21,1.358],[52.27,1.341],[52.35,1.271],[52.45,1.350],[52.45,1.377],[52.65,1.408],[52.68,1.391],[52.73,1.340],[52.68,1.331],[52.68,1.310],[52.56,1.238],[52.82,1.208],[52.97,1.217],[53.08,1.194],[53.11,1.385],[53.18,1.362],[53.38,1.362],[53.48,1.359],[53.30,1.414],[53.32,1.343],[53.32,1.337],[53.45,1.323],[53.71,1.190],[53.48,1.230],[53.56,1.208],[53.86,1.203],[54.32,1.412],[54.55,1.403],[54.85,1.392],[54.85,1.461],[55.33,1.443],[54.70,1.374],[54.80,1.368],[54.59,1.362],[55.48,1.404],[55.50,1.386],[55.68,1.386],[55.56,1.382],[56.11,1.374],[55.10,1.361],[55.32,1.361],[55.50,1.358],[55.68,1.360],[55.12,1.135],[55.30,1.184],[55.71,1.188],[55.71,1.180],[56.15,1.169],[56.36,1.158],[56.33,1.151],[56.85,1.141],[56.94,1.146],[57.00,1.158],[57.02,1.181],[57.20,1.167],[57.50,1.172],[57.58,1.188],[56.82,1.367],[57.50,1.365],[57.42,1.354],[57.77,1.355],[57.98,1.332],[58.24,1.330],[58.89,1.337],[59.21,1.331],[59.89,1.351],[59.92,1.347],[60.42,1.322],[60.80,1.321],[60.76,1.314],[60.64,1.303],[59.70,1.307],[59.92,1.302],[59.70,1.301],[60.79,1.181],[60.33,1.125],[60.30,1.150],[60.30,1.148],[61.29,1.135],[61.29,1.171],[61.48,1.148],[61.74,1.156],[62.05,1.156],[62.38,1.166],[62.47,1.163],[62.55,1.164],[62.42,1.170],[62.95,1.147],[64.27,1.222],[64.32,1.141],[64.55,1.170],[64.97,1.106],[65.08,1.106],[65.35,1.194],[65.83,1.078],[63.18,1.198],[63.00,1.247],[62.65,1.218],[62.88,1.225],[62.15,1.236],[62.35,1.257],[62.35,1.252],[62.38,1.254],[61.67,1.257],[61.48,1.277],[60.95,1.281],[61.21,1.277],[61.29,1.263],[60.91,1.253],[61.14,1.249],[62.35,1.190],[62.30,1.201],[62.09,1.197],[61.70,1.193],[61.33,1.202],[61.36,1.198],[61.52,1.208],[61.67,1.213],[61.17,1.228],[60.83,1.214],[60.71,1.218],[60.86,1.233],[62.05,1.224],[61.89,1.217],[62.00,1.212],
 [58.20,1.176],[58.60,1.176],[59.30,1.172],[59.60,1.165],[58.90,1.160],[57.90,1.170],[59.60,1.145],[58.30,1.155],[56.70,1.160],[57.30,1.180],[55.90,1.210],[55.30,1.205],[54.90,1.198],[56.40,1.190],[59.40,1.195],[60.20,1.180],[60.60,1.180],[56.30,1.346],[56.70,1.340],[57.30,1.330],[56.00,1.355],[55.80,1.343],[58.50,1.312],[59.20,1.311],[58.70,1.320],
 [51.45,1.262],[51.60,1.285],[51.50,1.306],[51.62,1.327],[51.40,1.350],
 [51.75,1.274],[51.78,1.296],[51.72,1.318],
 [52.05,1.250],[51.95,1.270],[52.10,1.292],[52.00,1.310],[52.12,1.338],
 [52.25,1.256],[52.28,1.280],[52.22,1.300],[52.30,1.324],
 [52.55,1.243],[52.42,1.262],[52.60,1.281],[52.48,1.300],[52.58,1.320],[52.45,1.345],
 [52.75,1.234],[52.80,1.255],[52.72,1.274],[52.78,1.292],[52.74,1.311],[52.82,1.332],
 [53.05,1.225],[52.95,1.248],[53.10,1.266],[52.98,1.284],[53.08,1.302],[52.92,1.322],[53.04,1.342],
 [53.25,1.220],[53.30,1.240],[53.22,1.258],[53.28,1.276],[53.24,1.294],[53.32,1.313],[53.26,1.333],
 [53.52,1.215],[53.45,1.236],[53.58,1.254],[53.44,1.272],[53.55,1.290],[53.47,1.308],[53.60,1.326],
 [53.75,1.210],[53.80,1.228],[53.72,1.246],[53.78,1.264],[53.74,1.282],[53.82,1.300],[53.76,1.318],[53.80,1.336],
 [54.05,1.205],[53.95,1.226],[54.08,1.246],[53.97,1.262],[54.10,1.278],[53.98,1.294],[54.06,1.310],[53.94,1.322],[54.04,1.340],
 [54.25,1.216],[54.30,1.236],[54.22,1.256],[54.28,1.272],[54.24,1.288],[54.32,1.304],[54.26,1.318],[54.30,1.332],
 [54.55,1.212],[54.45,1.232],[54.58,1.250],[54.42,1.266],[54.52,1.282],[54.60,1.298],[54.46,1.314],[54.56,1.330],
 [54.75,1.205],[54.80,1.226],[54.72,1.244],[54.78,1.260],[54.74,1.276],[54.82,1.292],[54.76,1.308],[54.80,1.325],
 [55.02,1.198],[54.95,1.220],[55.10,1.240],[54.98,1.256],[55.06,1.272],[54.94,1.288],[55.08,1.304],[54.97,1.320],[55.04,1.340],
 [55.25,1.212],[55.30,1.232],[55.22,1.250],[55.28,1.266],[55.24,1.282],[55.32,1.298],[55.26,1.314],[55.30,1.332],
 [55.55,1.205],[55.45,1.228],[55.58,1.246],[55.46,1.262],[55.54,1.278],[55.42,1.294],[55.60,1.310],[55.48,1.328],
 [55.75,1.200],[55.80,1.222],[55.72,1.240],[55.78,1.256],[55.74,1.272],[55.82,1.288],[55.76,1.304],[55.80,1.320],
 [56.05,1.196],[55.95,1.215],[56.08,1.236],[55.96,1.252],[56.04,1.268],[55.94,1.284],[56.10,1.300],[55.98,1.316],[56.06,1.336],
 [56.25,1.205],[56.30,1.226],[56.22,1.244],[56.28,1.260],[56.24,1.276],[56.32,1.292],[56.26,1.308],[56.30,1.326],
 [56.52,1.190],[56.45,1.210],[56.58,1.228],[56.44,1.244],[56.55,1.260],[56.48,1.276],[56.60,1.292],[56.46,1.310],[56.54,1.328],
 [56.75,1.198],[56.80,1.218],[56.72,1.236],[56.78,1.252],[56.74,1.268],[56.82,1.284],[56.76,1.300],[56.80,1.318],
 [57.05,1.200],[56.95,1.218],[57.08,1.236],[56.97,1.252],[57.04,1.268],[56.93,1.284],[57.10,1.300],[57.00,1.318],
 [57.25,1.190],[57.30,1.208],[57.22,1.226],[57.28,1.244],[57.24,1.260],[57.32,1.276],[57.26,1.292],[57.30,1.310],
 [57.55,1.193],[57.45,1.210],[57.58,1.226],[57.44,1.242],[57.53,1.258],[57.47,1.274],[57.60,1.290],[57.50,1.306],
 [57.75,1.200],[57.80,1.218],[57.72,1.234],[57.78,1.250],[57.74,1.266],[57.82,1.282],[57.76,1.298],
 [58.05,1.186],[57.95,1.204],[58.08,1.220],[57.96,1.236],[58.04,1.252],[57.94,1.268],[58.10,1.284],[58.00,1.300],
 [58.25,1.195],[58.30,1.212],[58.22,1.228],[58.28,1.244],[58.24,1.260],[58.32,1.276],[58.26,1.292],
 [58.52,1.193],[58.45,1.210],[58.58,1.226],[58.44,1.242],[58.55,1.258],[58.48,1.274],[58.60,1.292],
 [58.75,1.186],[58.80,1.202],[58.72,1.218],[58.78,1.234],[58.74,1.250],[58.82,1.266],[58.76,1.284],
 [59.05,1.185],[58.95,1.202],[59.08,1.218],[58.97,1.234],[59.04,1.250],[58.93,1.266],[59.10,1.282],[59.00,1.300],
 [59.25,1.194],[59.30,1.210],[59.22,1.226],[59.28,1.242],[59.24,1.258],[59.32,1.274],[59.26,1.290],
 [59.55,1.190],[59.45,1.208],[59.58,1.224],[59.44,1.240],[59.52,1.256],[59.47,1.274],[59.60,1.290],
 [59.75,1.198],[59.80,1.216],[59.72,1.232],[59.78,1.248],[59.74,1.264],[59.82,1.280],
 [60.05,1.200],[59.95,1.216],[60.08,1.232],[59.97,1.248],[60.04,1.265],[59.94,1.282],
 [60.25,1.206],[60.30,1.222],[60.22,1.240],[60.28,1.256],[60.24,1.272],
 [60.55,1.195],[60.45,1.212],[60.58,1.228],[60.44,1.244],[60.52,1.260],[60.48,1.278],
 [60.75,1.200],[60.80,1.216],[60.72,1.232],[60.78,1.250],[60.74,1.266],
 [61.05,1.190],[60.95,1.208],[61.08,1.224],[60.97,1.240],[61.02,1.258],
 [61.25,1.212],[61.30,1.230],[61.22,1.246],
 [61.55,1.200],[61.45,1.218],[61.58,1.235],[61.47,1.250],
 [61.75,1.210],[61.80,1.228],[61.72,1.242],
 [62.05,1.205],[61.95,1.222],[62.08,1.245]
];

// ---- panel f: structural modal controllability (x in 1e-4) vs synchronizability
var fXRange = [1.165, 2.168];
var fYRange = [1.0795, 1.4615];
var fXTicks = [1.2, 1.4, 1.6, 1.8, 2.0];
var fXLabels = ['1.2', '1.4', '1.6', '1.8', '2'];
var fYTicks = [1.1, 1.15, 1.2, 1.25, 1.3, 1.35, 1.4, 1.45];
var fYLabels = ['1.1', '', '1.2', '', '1.3', '', '1.4', ''];
var fFit = [[1.165, 1.1958], [2.168, 1.3586]];
var fPts = [
 [1.169,1.080],[1.187,1.195],[1.196,1.111],[1.204,1.111],[1.215,1.171],[1.224,1.141],[1.226,1.223],[1.271,1.198],[1.278,1.149],[1.277,1.248],[1.282,1.225],[1.300,1.172],[1.301,1.166],[1.303,1.165],[1.303,1.191],[1.304,1.259],[1.306,1.253],[1.310,1.237],[1.316,1.157],[1.328,1.157],[1.332,1.196],[1.338,1.194],[1.337,1.149],[1.339,1.148],[1.350,1.136],[1.352,1.172],[1.372,1.187],[1.391,1.125],[1.395,1.150],[1.395,1.148],[1.430,1.143],[1.428,1.173],[1.462,1.155],[1.480,1.150],[1.487,1.163],[1.528,1.180],[1.551,1.169],[1.564,1.147],[1.569,1.142],[1.595,1.159],[1.599,1.152],[1.613,1.170],[1.672,1.136],[1.373,1.322],[1.376,1.315],[1.378,1.304],[1.389,1.323],[1.410,1.351],[1.416,1.352],[1.425,1.308],[1.449,1.332],[1.451,1.322],[1.466,1.337],[1.520,1.356],[1.536,1.365],[1.552,1.352],[1.574,1.367],[1.603,1.355],[1.650,1.406],[1.647,1.383],[1.661,1.443],[1.641,1.361],[1.654,1.358],[1.661,1.362],[1.674,1.350],[1.670,1.369],[1.681,1.365],[1.691,1.461],[1.698,1.376],[1.694,1.369],[1.711,1.404],[1.722,1.412],[1.786,1.416],[1.811,1.410],[1.810,1.393],[1.776,1.363],[1.786,1.363],[1.800,1.363],[1.851,1.378],[1.871,1.385],[1.885,1.388],[1.879,1.446],[1.936,1.413],[1.904,1.367],[1.908,1.363],[1.985,1.378],[1.998,1.369],[1.967,1.363],[2.038,1.370],[2.038,1.366],[2.038,1.362],[2.038,1.357],[2.042,1.331],[1.850,1.351],[1.869,1.342],[1.832,1.342],[1.832,1.332],[1.803,1.317],[1.945,1.334],[1.942,1.316],[1.942,1.311],[1.936,1.306],[1.945,1.298],[1.889,1.319],[1.886,1.301],[2.028,1.320],[2.030,1.308],[2.018,1.303],[2.020,1.283],[2.034,1.284],[1.978,1.290],[1.970,1.276],[1.988,1.269],[1.956,1.262],[1.923,1.276],[1.936,1.247],[1.956,1.242],[1.900,1.230],[1.868,1.227],[1.868,1.223],[1.880,1.250],[1.884,1.250],[2.106,1.326],[2.167,1.374],[1.813,1.218],[1.817,1.218],[1.804,1.195],[1.811,1.226],[1.760,1.190],[1.744,1.200],[1.748,1.203],[1.839,1.240],
 [1.31,1.210],[1.33,1.180],[1.35,1.215],[1.37,1.235],[1.38,1.200],[1.40,1.175],[1.41,1.240],[1.43,1.190],[1.44,1.255],[1.46,1.170],[1.29,1.255],[1.30,1.230],[1.34,1.280],[1.36,1.290],[1.39,1.295],[1.41,1.300],[1.47,1.310],[1.50,1.310],[1.53,1.320],[1.56,1.330],[1.60,1.335],[1.63,1.330],[1.70,1.335],[1.74,1.325],[1.77,1.320],[1.82,1.330],[1.86,1.320],[1.62,1.190],[1.65,1.185],[1.68,1.195],[1.71,1.190],[1.58,1.180],[1.55,1.190],[1.52,1.175],[1.64,1.210],[1.72,1.220],[1.76,1.230],[1.80,1.250],
 [1.330,1.200],[1.335,1.222],[1.325,1.245],[1.332,1.262],
 [1.345,1.190],[1.348,1.212],[1.343,1.234],[1.347,1.256],
 [1.362,1.185],[1.355,1.207],[1.365,1.228],[1.358,1.250],[1.363,1.270],
 [1.375,1.205],[1.378,1.222],[1.373,1.240],[1.377,1.262],
 [1.392,1.195],[1.385,1.215],[1.394,1.236],[1.387,1.256],[1.393,1.278],
 [1.405,1.188],[1.408,1.208],[1.403,1.228],[1.407,1.248],[1.404,1.270],
 [1.418,1.180],[1.425,1.200],[1.415,1.220],[1.423,1.240],[1.417,1.260],[1.424,1.282],
 [1.435,1.195],[1.438,1.214],[1.433,1.234],[1.437,1.254],[1.434,1.274],[1.438,1.294],
 [1.452,1.190],[1.445,1.210],[1.455,1.228],[1.447,1.246],[1.453,1.264],[1.446,1.285],[1.454,1.305],
 [1.465,1.200],[1.468,1.218],[1.463,1.236],[1.467,1.256],[1.464,1.275],[1.468,1.295],
 [1.478,1.185],[1.485,1.203],[1.476,1.222],[1.484,1.240],[1.477,1.258],[1.486,1.276],[1.479,1.296],
 [1.495,1.192],[1.498,1.210],[1.493,1.228],[1.497,1.246],[1.494,1.264],[1.498,1.282],[1.495,1.300],
 [1.512,1.196],[1.505,1.215],[1.514,1.233],[1.506,1.251],[1.513,1.269],[1.507,1.287],
 [1.525,1.202],[1.528,1.220],[1.523,1.238],[1.527,1.256],[1.524,1.275],[1.528,1.293],
 [1.538,1.190],[1.545,1.208],[1.536,1.226],[1.544,1.244],[1.537,1.262],[1.546,1.280],[1.539,1.300],
 [1.555,1.196],[1.558,1.214],[1.553,1.232],[1.557,1.250],[1.554,1.268],[1.558,1.286],[1.555,1.305],
 [1.572,1.200],[1.565,1.218],[1.574,1.236],[1.566,1.254],[1.573,1.272],[1.567,1.290],[1.575,1.310],
 [1.585,1.205],[1.588,1.223],[1.583,1.241],[1.587,1.259],[1.584,1.277],[1.588,1.295],[1.585,1.314],
 [1.598,1.192],[1.605,1.210],[1.596,1.228],[1.604,1.246],[1.597,1.264],[1.606,1.282],[1.599,1.300],[1.603,1.320],
 [1.615,1.200],[1.618,1.218],[1.613,1.236],[1.617,1.254],[1.614,1.272],[1.618,1.290],[1.615,1.309],
 [1.632,1.205],[1.625,1.223],[1.634,1.241],[1.626,1.259],[1.633,1.277],[1.627,1.295],[1.635,1.313],
 [1.645,1.208],[1.648,1.226],[1.643,1.244],[1.647,1.262],[1.644,1.280],[1.648,1.298],[1.645,1.316],
 [1.658,1.198],[1.665,1.216],[1.656,1.234],[1.664,1.252],[1.657,1.270],[1.666,1.288],[1.659,1.306],[1.663,1.324],
 [1.675,1.204],[1.678,1.222],[1.673,1.240],[1.677,1.258],[1.674,1.276],[1.678,1.294],[1.675,1.312],
 [1.692,1.210],[1.685,1.228],[1.694,1.246],[1.686,1.264],[1.693,1.282],[1.687,1.300],[1.695,1.318],
 [1.705,1.216],[1.708,1.234],[1.703,1.252],[1.707,1.270],[1.704,1.288],[1.708,1.306],
 [1.718,1.204],[1.725,1.222],[1.716,1.240],[1.724,1.258],[1.717,1.276],[1.726,1.294],[1.719,1.312],
 [1.735,1.210],[1.738,1.228],[1.733,1.246],[1.737,1.264],[1.734,1.282],[1.738,1.300],[1.735,1.318],
 [1.752,1.215],[1.745,1.234],[1.754,1.252],[1.746,1.270],[1.753,1.288],[1.747,1.306],
 [1.765,1.222],[1.768,1.240],[1.763,1.258],[1.767,1.276],[1.764,1.294],[1.768,1.312],
 [1.778,1.210],[1.785,1.228],[1.776,1.246],[1.784,1.264],[1.777,1.282],[1.786,1.300],
 [1.795,1.218],[1.798,1.236],[1.793,1.254],[1.797,1.272],[1.794,1.290],[1.798,1.308],
 [1.812,1.222],[1.805,1.240],[1.814,1.258],[1.806,1.276],[1.813,1.294],[1.807,1.312],
 [1.825,1.230],[1.828,1.248],[1.823,1.266],[1.827,1.284],[1.824,1.302],
 [1.838,1.235],[1.845,1.253],[1.836,1.271],[1.844,1.289],
 [1.855,1.242],[1.858,1.260],[1.853,1.278],[1.857,1.296],
 [1.872,1.248],[1.865,1.266],[1.874,1.284],[1.866,1.302]
];

// ---- layout: plot box [left, top, right, bottom] in page pixels
var panels = [
  { box: [324, 126, 1039, 839], pts: aPts, fit: aFit, xr: aXRange, yr: aYRange, xt: aXTicks, xl: aXLabels, yt: aYTicks, yl: aYLabels, xPad: 0 },
  { box: [1277, 123, 1993, 836], pts: bPts, fit: bFit, xr: bXRange, yr: bYRange, xt: bXTicks, xl: bXLabels, yt: bYTicks, yl: bYLabels, xPad: 2 },
  { box: [2243, 133, 2959, 848], pts: cPts, fit: cFit, xr: cXRange, yr: cYRange, xt: cXTicks, xl: cXLabels, yt: cYTicks, yl: cYLabels, xPad: -8 },
  { box: [327, 1010, 1034, 1716], pts: dPts, fit: dFit, xr: dXRange, yr: dYRange, xt: dXTicks, xl: dXLabels, yt: dYTicks, yl: dYLabels, xPad: -2 },
  { box: [1276, 1007, 1993, 1720], pts: ePts, fit: eFit, xr: eXRange, yr: eYRange, xt: eXTicks, xl: eXLabels, yt: eYTicks, yl: eYLabels, xPad: -6 },
  { box: [2235, 1004, 2949, 1717], pts: fPts, fit: fFit, xr: fXRange, yr: fYRange, xt: fXTicks, xl: fXLabels, yt: fYTicks, yl: fYLabels, xPad: -3 }
];

var fig = document.getElementById('fig');

// matlab style box with inward ticks on all four sides
var boxTicks = {
  id: 'boxTicks',
  beforeDatasetsDraw: function (chart) {
    var ctx = chart.ctx, a = chart.chartArea, sx = chart.scales.x, sy = chart.scales.y;
    var len = 11;
    ctx.save();
    ctx.strokeStyle = '#555555';
    ctx.lineWidth = 3.5;
    ctx.strokeRect(a.left, a.top, a.right - a.left, a.bottom - a.top);
    ctx.lineWidth = 3;
    ctx.beginPath();
    sx.ticks.forEach(function (t) {
      var px = sx.getPixelForValue(t.value);
      ctx.moveTo(px, a.bottom); ctx.lineTo(px, a.bottom - len);
      ctx.moveTo(px, a.top); ctx.lineTo(px, a.top + len);
    });
    sy.ticks.forEach(function (t) {
      var py = sy.getPixelForValue(t.value);
      ctx.moveTo(a.left, py); ctx.lineTo(a.left + len, py);
      ctx.moveTo(a.right, py); ctx.lineTo(a.right - len, py);
    });
    ctx.stroke();
    ctx.restore();
  }
};

function drawPanel(p) {
  var padL = 200, padT = 24, padR = 90, padB = 80;
  var w = p.box[2] - p.box[0] + padL + padR;
  var h = p.box[3] - p.box[1] + padT + padB;
  var cv = document.createElement('canvas');
  cv.width = w; cv.height = h;
  cv.style.width = w + 'px'; cv.style.height = h + 'px';
  cv.style.left = (p.box[0] - padL) + 'px';
  cv.style.top = (p.box[1] - padT) + 'px';
  fig.appendChild(cv);

  var tickFont = { family: 'Open Sans', size: 56 };
  new Chart(cv, {
    type: 'scatter',
    data: {
      datasets: [{
        data: p.fit,
        showLine: true,
        borderColor: '#393939',
        borderWidth: 7,
        pointRadius: 0,
        clip: false,
        order: 0
      }, {
        data: p.pts,
        pointRadius: 4.1,
        pointBorderWidth: 4.6,
        pointBorderColor: '#555555',
        pointBackgroundColor: '#a4a4a4',
        clip: false,
        order: 1
      }]
    },
    options: {
      responsive: false,
      animation: false,
      events: [],
      layout: { padding: { left: 0, top: padT, right: padR, bottom: 0 } },
      plugins: { legend: { display: false }, tooltip: { enabled: false } },
      scales: {
        x: {
          type: 'linear', min: p.xr[0], max: p.xr[1],
          grid: { display: false }, border: { display: false },
          afterBuildTicks: function (s) { s.ticks = p.xt.map(function (v) { return { value: v }; }); },
          afterFit: function (s) { s.height = padB; s.paddingLeft = 0; s.paddingRight = 0; },
          ticks: { autoSkip: false, maxRotation: 0, padding: p.xPad, color: '#000', font: tickFont,
                   callback: function (v, i) { return p.xl[i]; } }
        },
        y: {
          type: 'linear', min: p.yr[0], max: p.yr[1],
          grid: { display: false }, border: { display: false },
          afterBuildTicks: function (s) { s.ticks = p.yt.map(function (v) { return { value: v }; }); },
          afterFit: function (s) { s.width = padL; s.paddingTop = 0; s.paddingBottom = 0; },
          ticks: { autoSkip: false, padding: 10, color: '#000', font: tickFont,
                   callback: function (v, i) { return p.yl[i]; } }
        }
      }
    },
    plugins: [boxTicks]
  });
}

panels.forEach(drawPanel);

// text placed by its baseline (open sans, line-height 1 -> baseline at 0.888em)
function addText(html, x, base, size, cls) {
  var d = document.createElement('div');
  d.className = 't ' + (cls || '');
  d.style.fontSize = size + 'px';
  d.style.left = x + 'px';
  d.style.top = (base - 0.888 * size) + 'px';
  d.innerHTML = html;
  fig.appendChild(d);
}
// vertical text, given baseline x and centre y
function addVText(txt, baseX, cy, size) {
  var d = document.createElement('div');
  d.className = 't rot';
  d.style.fontSize = size + 'px';
  d.style.left = (baseX - 0.388 * size) + 'px';
  d.style.top = cy + 'px';
  d.textContent = txt;
  fig.appendChild(d);
}

// panel letters
addText('a', 3, 117, 110, 'letter');
addText('b', 1097, 117, 110, 'letter');
addText('c', 2040, 114, 110, 'letter');
addText('d', 3, 996, 110, 'letter');
addText('e', 1094, 996, 110, 'letter');
addText('f', 2040, 990, 110, 'letter');

// statistics
addText('r = -0.338', 548, 243, 56); addText('p = 7.335e-728', 548, 300, 56);
addText('r = -0.197', 1579, 195, 56); addText('p = 4.823e-08', 1579, 252, 56);
addText('r = -0.147', 2576, 222, 56); addText('p = 4.905e-05', 2576, 279, 56);
addText('r = -0.994', 544, 1128, 56); addText('p = 4.581e-982', 544, 1187, 56);
addText('r = -0.495', 1582, 1084, 56); addText('p = 3.420e-48', 1582, 1146, 56);
addText('r = 0.488', 2327, 1101, 56); addText('p = 1.393e-46', 2327, 1158, 56);

// x axis titles
addText('Average controllability', 675, 938, 58, 'ctr');
addText('Average controllability', 1655, 938, 58, 'ctr');
addText('Modal controllability', 2582, 938, 58, 'ctr');
addText('Average controllability', 662, 1818, 58, 'ctr');
addText('Average controllability', 1635, 1818, 58, 'ctr');
addText('Modal controllability', 2630, 1818, 58, 'ctr');

// y axis titles
addVText('Functional', 57, 487, 58);
addVText('modal controllability', 154, 458, 58);
addVText('Synchronizability', 1160, 459, 58);
addVText('Synchronizability', 2106, 466, 58);
addVText('Structural', 57, 1383, 58);
addVText('modal controllability', 152, 1373, 58);
addVText('Synchronizability', 1152, 1371, 58);
addVText('Synchronizability', 2103, 1371, 58);

// exponent labels
addText('x10<span class="sup">-4</span>', 206, 1008, 46);
addText('x10<span class="sup">-4</span>', 2887, 1768, 50);
</script>
</body>
</html>
